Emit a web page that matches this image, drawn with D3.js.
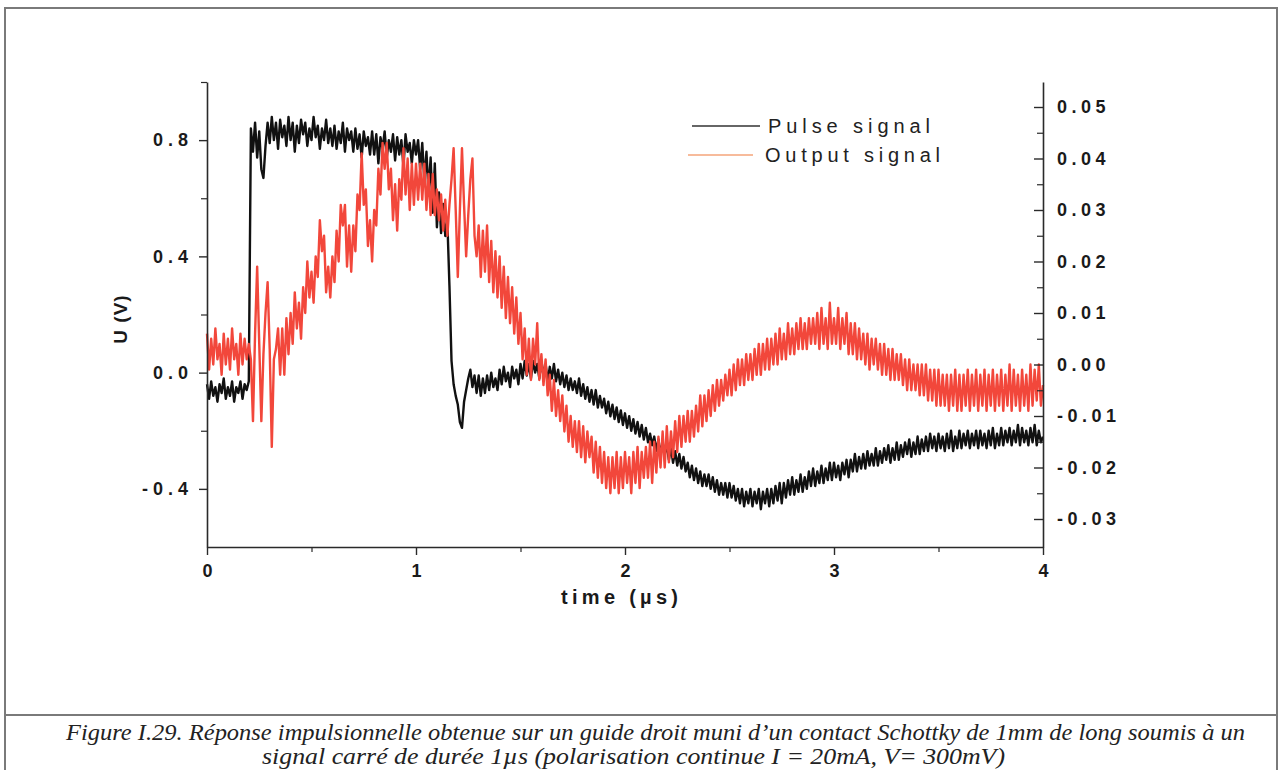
<!DOCTYPE html>
<html><head><meta charset="utf-8">
<script src="https://cdn.jsdelivr.net/npm/d3@7"></script>
<style>body{margin:0;background:#fff}svg{display:block}</style>
</head><body><div id="chart"></div>
<script>
// ---- DATA ----
const xTicks = [0, 1, 2, 3, 4];
const leftTicks = [0.8, 0.4, 0.0, -0.4];
const rightTicks = [0.05, 0.04, 0.03, 0.02, 0.01, 0.00, -0.01, -0.02, -0.03];
const seriesNames = ["Pulse signal", "Output signal"];
const sampleStep = 0.01; // µs between samples
// Pulse signal, U (V), left axis, t = 0 .. 4 µs
const pulse = [
-0.04,-0.09,-0.03,-0.08,-0.05,-0.10,-0.04,-0.07,-0.02,-0.09,
-0.05,-0.08,-0.03,-0.10,-0.05,-0.07,-0.03,-0.09,-0.04,-0.06,
-0.03,0.84,0.76,0.86,0.74,0.83,0.70,0.67,0.78,0.86,
0.79,0.88,0.80,0.86,0.77,0.87,0.81,0.85,0.78,0.88,
0.80,0.86,0.76,0.85,0.79,0.87,0.82,0.86,0.78,0.84,
0.80,0.88,0.81,0.85,0.77,0.84,0.80,0.87,0.79,0.84,
0.78,0.85,0.77,0.83,0.79,0.86,0.76,0.84,0.80,0.83,
0.76,0.84,0.77,0.82,0.74,0.83,0.78,0.81,0.75,0.83,
0.75,0.82,0.72,0.81,0.77,0.83,0.74,0.80,0.76,0.82,
0.73,0.81,0.75,0.80,0.71,0.82,0.76,0.79,0.72,0.80,
0.75,0.80,0.70,0.79,0.66,0.76,0.62,0.74,0.55,0.72,
0.50,0.62,0.48,0.58,0.47,0.52,0.30,0.04,-0.04,-0.08,
-0.11,-0.17,-0.19,-0.10,-0.06,-0.02,0.01,-0.05,-0.01,-0.07,
-0.01,-0.08,-0.02,-0.07,-0.01,-0.06,0.00,-0.05,-0.02,-0.06,
0.01,-0.04,0.02,-0.03,0.00,-0.05,0.02,-0.02,0.01,-0.04,
0.03,-0.02,0.04,-0.01,0.03,-0.02,0.04,0.00,0.03,-0.02,
0.04,-0.01,0.03,-0.03,0.02,-0.02,0.03,-0.03,0.01,-0.04,
0.00,-0.05,-0.01,-0.06,-0.02,-0.06,-0.03,-0.07,-0.02,-0.08,
-0.04,-0.09,-0.05,-0.10,-0.06,-0.11,-0.06,-0.12,-0.08,-0.12,
-0.09,-0.14,-0.10,-0.15,-0.11,-0.16,-0.12,-0.17,-0.13,-0.18,
-0.14,-0.19,-0.15,-0.20,-0.16,-0.21,-0.17,-0.22,-0.18,-0.23,
-0.19,-0.24,-0.21,-0.25,-0.22,-0.27,-0.23,-0.28,-0.24,-0.28,
-0.25,-0.30,-0.26,-0.31,-0.27,-0.32,-0.28,-0.33,-0.29,-0.34,
-0.31,-0.36,-0.32,-0.37,-0.33,-0.38,-0.34,-0.39,-0.35,-0.39,
-0.35,-0.40,-0.36,-0.41,-0.37,-0.42,-0.38,-0.42,-0.38,-0.43,
-0.38,-0.43,-0.39,-0.44,-0.40,-0.45,-0.40,-0.46,-0.41,-0.45,
-0.40,-0.46,-0.41,-0.45,-0.40,-0.47,-0.41,-0.45,-0.40,-0.46,
-0.40,-0.45,-0.39,-0.44,-0.38,-0.45,-0.38,-0.43,-0.37,-0.42,
-0.36,-0.42,-0.37,-0.41,-0.35,-0.41,-0.36,-0.40,-0.34,-0.39,
-0.33,-0.39,-0.34,-0.38,-0.32,-0.38,-0.33,-0.37,-0.31,-0.37,
-0.31,-0.36,-0.32,-0.37,-0.31,-0.35,-0.30,-0.36,-0.30,-0.34,
-0.28,-0.34,-0.29,-0.33,-0.28,-0.33,-0.27,-0.32,-0.28,-0.32,
-0.26,-0.32,-0.27,-0.31,-0.26,-0.30,-0.25,-0.31,-0.26,-0.30,
-0.24,-0.30,-0.25,-0.29,-0.24,-0.28,-0.23,-0.29,-0.24,-0.28,
-0.22,-0.28,-0.23,-0.27,-0.22,-0.27,-0.21,-0.26,-0.22,-0.27,
-0.21,-0.26,-0.22,-0.27,-0.21,-0.26,-0.20,-0.27,-0.22,-0.26,
-0.20,-0.26,-0.21,-0.25,-0.20,-0.26,-0.21,-0.25,-0.20,-0.26,
-0.20,-0.25,-0.21,-0.26,-0.20,-0.25,-0.19,-0.26,-0.21,-0.25,
-0.19,-0.25,-0.20,-0.24,-0.19,-0.25,-0.20,-0.24,-0.18,-0.25,
-0.19,-0.24,-0.20,-0.25,-0.19,-0.24,-0.18,-0.25,-0.20,-0.24,
-0.22];
// Output signal, right axis, t = 0 .. 4 µs
const output = [
0.006,-0.001,0.005,0.000,0.007,0.001,0.004,-0.002,0.006,0.000,
0.005,-0.001,0.007,0.001,0.004,-0.002,0.006,0.000,0.005,0.001,
0.004,0.001,-0.011,0.006,0.019,0.004,-0.011,0.002,0.010,0.016,
0.003,-0.016,0.001,0.003,0.007,-0.002,0.007,-0.002,0.009,0.002,
0.010,0.004,0.014,0.007,0.012,0.005,0.015,0.010,0.020,0.013,
0.018,0.012,0.021,0.017,0.028,0.022,0.025,0.014,0.019,0.013,
0.021,0.016,0.026,0.020,0.031,0.027,0.031,0.019,0.027,0.018,
0.027,0.022,0.033,0.030,0.041,0.031,0.034,0.023,0.028,0.020,
0.030,0.027,0.038,0.033,0.043,0.038,0.043,0.034,0.038,0.028,
0.035,0.026,0.036,0.032,0.042,0.033,0.040,0.030,0.039,0.031,
0.039,0.032,0.039,0.032,0.039,0.030,0.037,0.029,0.037,0.029,
0.034,0.028,0.033,0.026,0.032,0.025,0.031,0.036,0.042,0.030,
0.017,0.030,0.042,0.031,0.021,0.029,0.036,0.040,0.025,0.021,
0.027,0.017,0.026,0.018,0.027,0.016,0.024,0.014,0.022,0.013,
0.021,0.011,0.019,0.009,0.017,0.008,0.015,0.006,0.013,0.004,
0.010,0.001,0.007,-0.002,0.005,-0.003,0.005,0.000,0.008,-0.003,
0.002,-0.004,0.001,-0.006,-0.002,-0.009,-0.003,-0.010,-0.005,-0.011,
-0.006,-0.013,-0.008,-0.015,-0.010,-0.016,-0.011,-0.017,-0.011,-0.018,
-0.012,-0.019,-0.013,-0.018,-0.014,-0.021,-0.015,-0.022,-0.016,-0.023,
-0.017,-0.024,-0.018,-0.025,-0.018,-0.024,-0.017,-0.025,-0.018,-0.024,
-0.017,-0.023,-0.018,-0.025,-0.017,-0.023,-0.016,-0.024,-0.017,-0.022,
-0.016,-0.022,-0.015,-0.023,-0.015,-0.021,-0.014,-0.020,-0.013,-0.020,
-0.012,-0.019,-0.013,-0.018,-0.011,-0.017,-0.010,-0.016,-0.010,-0.015,
-0.009,-0.015,-0.009,-0.014,-0.008,-0.013,-0.006,-0.012,-0.006,-0.011,
-0.005,-0.010,-0.004,-0.009,-0.003,-0.008,-0.003,-0.007,-0.002,-0.006,
-0.001,-0.006,0.000,-0.005,0.001,-0.004,0.001,-0.004,0.002,-0.003,
0.002,-0.003,0.003,-0.002,0.004,-0.002,0.004,-0.001,0.005,-0.001,
0.005,0.000,0.006,0.000,0.007,0.001,0.006,0.001,0.008,0.002,
0.007,0.002,0.008,0.003,0.009,0.003,0.008,0.003,0.009,0.004,
0.009,0.004,0.010,0.003,0.011,0.004,0.009,0.003,0.012,0.004,
0.009,0.004,0.011,0.003,0.009,0.004,0.010,0.002,0.008,0.002,
0.008,0.001,0.007,0.001,0.006,0.000,0.006,-0.001,0.005,0.000,
0.005,-0.001,0.004,-0.002,0.004,-0.002,0.003,-0.003,0.003,-0.003,
0.002,-0.003,0.002,-0.004,0.001,-0.005,0.001,-0.005,0.000,-0.005,
0.000,-0.006,0.000,-0.006,0.000,-0.007,-0.001,-0.007,-0.001,-0.008,
-0.001,-0.008,-0.002,-0.008,-0.002,-0.009,-0.002,-0.008,-0.001,-0.009,
-0.002,-0.009,-0.002,-0.008,-0.001,-0.009,-0.002,-0.008,-0.001,-0.009,
-0.002,-0.008,-0.001,-0.009,-0.002,-0.008,-0.001,-0.009,-0.002,-0.008,
-0.001,-0.009,-0.002,-0.008,0.000,-0.009,-0.001,-0.008,-0.002,-0.009,
-0.001,-0.008,-0.002,-0.009,0.000,-0.008,-0.001,-0.007,0.000,-0.008,
-0.004];
const captionLines = [
  "Figure I.29. Réponse impulsionnelle obtenue sur un guide droit muni d’un contact Schottky de 1mm de long soumis à un",
  "signal carré de durée 1µs (polarisation continue I = 20mA, V= 300mV)"
];

// ---- DRAW ----
const W = 1279, H = 770;
const svg = d3.select("#chart").append("svg").attr("width", W).attr("height", H);
const m = {l: 207, r: 1043, t: 82, b: 547};
const x = d3.scaleLinear().domain([0, 4]).range([m.l, m.r]);
const yL = d3.scaleLinear().domain([-0.6, 1.0]).range([m.b, m.t]);
const yR = d3.scaleLinear().domain([-0.03 - 28/5150, 0.05 + 25/5150]).range([m.b, m.t]);
const ink = "#2a2a2a";
const labFont = "Liberation Sans, Arial, sans-serif";
const hy = f => d => f(d).replace("\u2212", "-");

// frame
svg.append("rect").attr("x", 5).attr("y", 8).attr("width", 1272).attr("height", 775)
  .attr("fill", "none").attr("stroke", "#7a7a7a").attr("stroke-width", 2);
svg.append("line").attr("x1", 5).attr("x2", 1277).attr("y1", 715).attr("y2", 715)
  .attr("stroke", "#7a7a7a").attr("stroke-width", 2);

// data lines
const times = pulse.map((_, i) => i * sampleStep);
const lineL = d3.line().x((d, i) => x(times[i])).y(d => yL(d));
const lineR = d3.line().x((d, i) => x(times[i])).y(d => yR(d));
svg.append("path").datum(pulse).attr("d", lineL).attr("fill", "none")
  .attr("stroke", "#111").attr("stroke-width", 2.4).attr("stroke-linejoin", "round");
svg.append("path").datum(output).attr("d", lineR).attr("fill", "none")
  .attr("stroke", "#f2473b").attr("stroke-width", 2.4).attr("stroke-linejoin", "round");

// axes
function styleAxis(g, ls) {
  g.selectAll("path.domain").attr("stroke", ink).attr("stroke-width", 1.6);
  g.selectAll(".tick line").attr("stroke", ink).attr("stroke-width", 1.4);
  g.selectAll("text").attr("fill", "#1a1a1a").style("font-family", labFont)
    .attr("font-weight", "bold").attr("font-size", 18).attr("letter-spacing", ls);
}
const gx = svg.append("g").attr("transform", `translate(0,${m.b})`)
  .call(d3.axisBottom(x).tickValues(xTicks).tickFormat(d3.format("d")).tickSize(8).tickSizeOuter(0).tickPadding(9));
styleAxis(gx, 0);
svg.append("g").attr("transform", `translate(0,${m.b})`)
  .call(d3.axisBottom(x).tickValues([0.5,1.5,2.5,3.5]).tickFormat("").tickSize(5).tickSizeOuter(0))
  .call(g => { g.select(".domain").remove(); g.selectAll("line").attr("stroke", ink).attr("stroke-width", 1.2); });

const gl = svg.append("g").attr("transform", `translate(${m.l},0)`)
  .call(d3.axisLeft(yL).tickValues(leftTicks).tickFormat(hy(d3.format(".1f"))).tickSize(8).tickSizeOuter(0).tickPadding(6));
styleAxis(gl, 5);
svg.append("g").attr("transform", `translate(${m.l},0)`)
  .call(d3.axisLeft(yL).tickValues([1.0, 0.6, 0.2, -0.2]).tickFormat("").tickSize(6).tickSizeOuter(0))
  .call(g => { g.select(".domain").remove(); g.selectAll("line").attr("stroke", ink).attr("stroke-width", 1.2); });

const gr = svg.append("g").attr("transform", `translate(${m.r},0)`)
  .call(d3.axisRight(yR).tickValues(rightTicks).tickFormat(hy(d3.format(".2f"))).tickSize(0).tickSizeOuter(0).tickPadding(14));
styleAxis(gr, 4.5);
svg.append("g").attr("transform", `translate(${m.r},0)`)
  .call(d3.axisLeft(yR).tickValues(rightTicks).tickFormat("").tickSize(9).tickSizeOuter(0))
  .call(g => { g.select(".domain").remove(); g.selectAll("line").attr("stroke", ink).attr("stroke-width", 1.4); });
svg.append("g").attr("transform", `translate(${m.r},0)`)
  .call(d3.axisLeft(yR).tickValues([0.045,0.035,0.025,0.015,0.005,-0.005,-0.015,-0.025]).tickFormat("").tickSize(6).tickSizeOuter(0))
  .call(g => { g.select(".domain").remove(); g.selectAll("line").attr("stroke", ink).attr("stroke-width", 1.2); });

// axis titles
svg.append("text").attr("x", 561).attr("y", 604).attr("textLength", 117).attr("lengthAdjust", "spacing")
  .style("font-family", labFont).attr("font-weight", "bold").attr("font-size", 20)
  .attr("fill", "#1a1a1a").text("time (µs)");
svg.append("text").attr("transform", "translate(127,319) rotate(-90)").attr("text-anchor", "middle")
  .style("font-family", labFont).attr("font-weight", "bold").attr("font-size", 19)
  .attr("letter-spacing", 1).attr("fill", "#1a1a1a").text("U (V)");

// legend
const legend = [
  {name: seriesNames[0], color: "#333", x1: 692, x2: 760, y: 126, tx: 768, w: 162},
  {name: seriesNames[1], color: "#f4a57a", x1: 688, x2: 753, y: 155, tx: 765, w: 175}
];
legend.forEach(d => {
  svg.append("line").attr("x1", d.x1).attr("x2", d.x2).attr("y1", d.y).attr("y2", d.y)
    .attr("stroke", d.color).attr("stroke-width", 1.4);
  svg.append("text").attr("x", d.tx).attr("y", d.y + 7).style("font-family", labFont)
    .attr("font-size", 20).attr("textLength", d.w).attr("lengthAdjust", "spacing")
    .attr("fill", "#222").text(d.name);
});

// caption
const capFont = "Liberation Serif, Times New Roman, serif";
svg.append("text").attr("x", 66).attr("y", 740).attr("textLength", 1179).attr("lengthAdjust", "spacingAndGlyphs")
  .style("font-family", capFont).attr("font-style", "italic")
  .attr("font-size", 24).attr("fill", "#222").text(captionLines[0]);
svg.append("text").attr("x", 262).attr("y", 764).attr("textLength", 743).attr("lengthAdjust", "spacingAndGlyphs")
  .style("font-family", capFont).attr("font-style", "italic")
  .attr("font-size", 24).attr("fill", "#222").text(captionLines[1]);
</script></body></html>
